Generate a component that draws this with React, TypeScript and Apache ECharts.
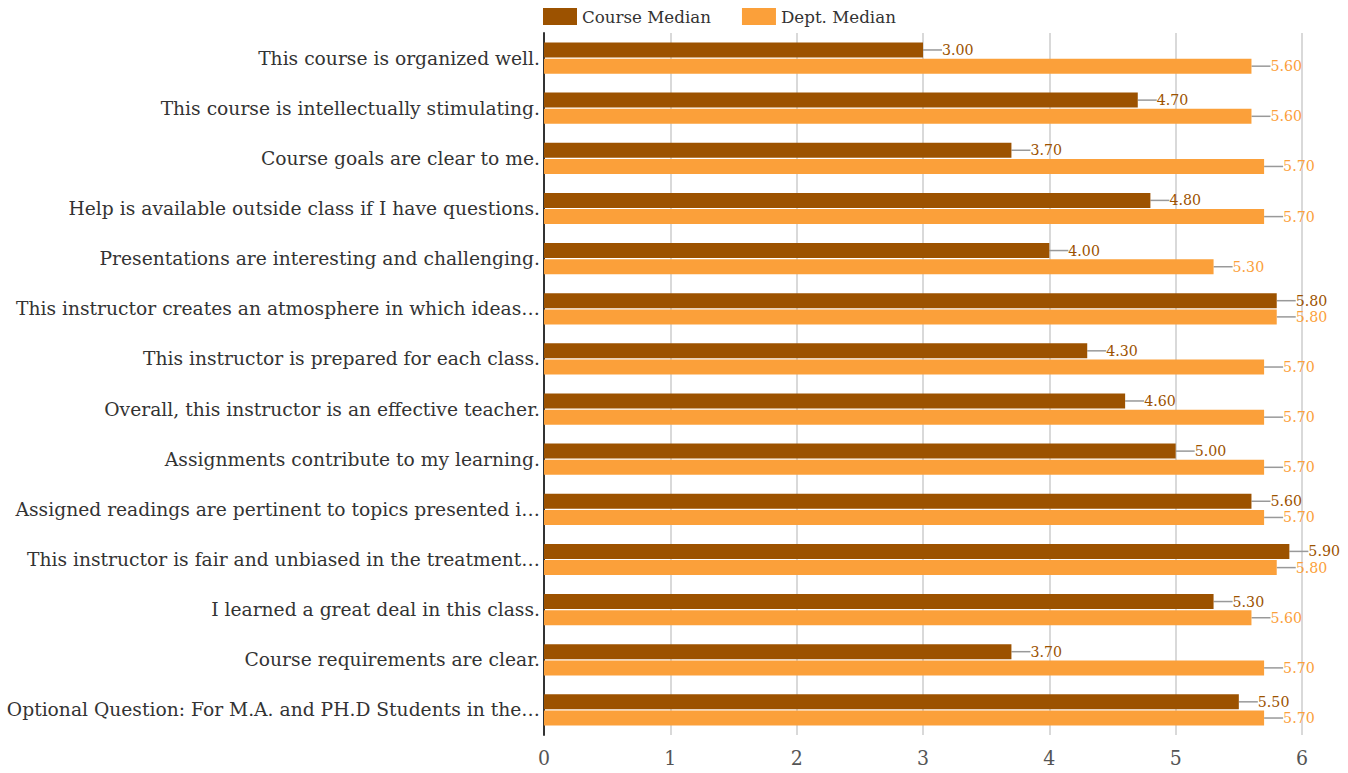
import React, { useEffect, useRef } from "react";
import * as echarts from "echarts";

const categories = [
  "This course is organized well.",
  "This course is intellectually stimulating.",
  "Course goals are clear to me.",
  "Help is available outside class if I have questions.",
  "Presentations are interesting and challenging.",
  "This instructor creates an atmosphere in which ideas…",
  "This instructor is prepared for each class.",
  "Overall, this instructor is an effective teacher.",
  "Assignments contribute to my learning.",
  "Assigned readings are pertinent to topics presented i…",
  "This instructor is fair and unbiased in the treatment…",
  "I learned a great deal in this class.",
  "Course requirements are clear.",
  "Optional Question: For M.A. and PH.D Students in the…",
];

const courseMedian = [3.0, 4.7, 3.7, 4.8, 4.0, 5.8, 4.3, 4.6, 5.0, 5.6, 5.9, 5.3, 3.7, 5.5];
const deptMedian = [5.6, 5.6, 5.7, 5.7, 5.3, 5.8, 5.7, 5.7, 5.7, 5.7, 5.8, 5.6, 5.7, 5.7];

const FONT = "DejaVu Serif";
const COURSE_COLOR = "#9C5200";
const DEPT_COLOR = "#FBA03A";

export default function App() {
  const ref = useRef<HTMLDivElement>(null);
  useEffect(() => {
    document.body.style.margin = "0";
    const chart = echarts.init(ref.current!, undefined, { renderer: "svg" });
    const labelCommon = {
      show: true,
      position: "right",
      distance: 4,
      fontFamily: FONT,
      fontSize: 14.2,
      formatter: (p: any) => Number(p.value).toFixed(2),
    };
    chart.setOption({
      animation: false,
      textStyle: { fontFamily: FONT },
      legend: {
        top: 3,
        left: 538,
        itemWidth: 34,
        itemHeight: 17,
        itemGap: 31,
        icon: "rect",
        textStyle: { fontFamily: FONT, fontSize: 16.7, color: "#333" },
        data: ["Course Median", "Dept. Median"],
      },
      grid: { left: 544, right: 46, top: 33, bottom: 38 },
      xAxis: {
        type: "value",
        min: 0,
        max: 6,
        interval: 1,
        axisLine: { show: false },
        axisTick: { show: false },
        splitLine: { show: true, lineStyle: { color: "#ccc", width: 1.5 } },
        axisLabel: {
          fontFamily: "DejaVu Serif Condensed",
          fontSize: 21,
          color: "#555",
          margin: 12,
        },
      },
      yAxis: {
        type: "category",
        inverse: true,
        data: categories,
        axisLine: { show: true, lineStyle: { color: "#333", width: 2 } },
        axisTick: { show: false },
        axisLabel: { fontFamily: FONT, fontSize: 18.7, color: "#333", margin: 4 },
      },
      series: [
        {
          name: "Course Median",
          type: "bar",
          data: courseMedian,
          barWidth: 15,
          barGap: "8%",
          itemStyle: { color: COURSE_COLOR },
          label: { ...labelCommon, color: COURSE_COLOR },
          labelLayout: { dx: 15 },
          labelLine: { show: true, lineStyle: { color: "#999", width: 1.5 } },
        },
        {
          name: "Dept. Median",
          type: "bar",
          data: deptMedian,
          barWidth: 15,
          itemStyle: { color: DEPT_COLOR },
          label: { ...labelCommon, color: DEPT_COLOR },
          labelLayout: { dx: 15 },
          labelLine: { show: true, lineStyle: { color: "#999", width: 1.5 } },
        },
      ],
    });
    return () => chart.dispose();
  }, []);
  return <div ref={ref} style={{ width: 1348, height: 773 }} />;
}
